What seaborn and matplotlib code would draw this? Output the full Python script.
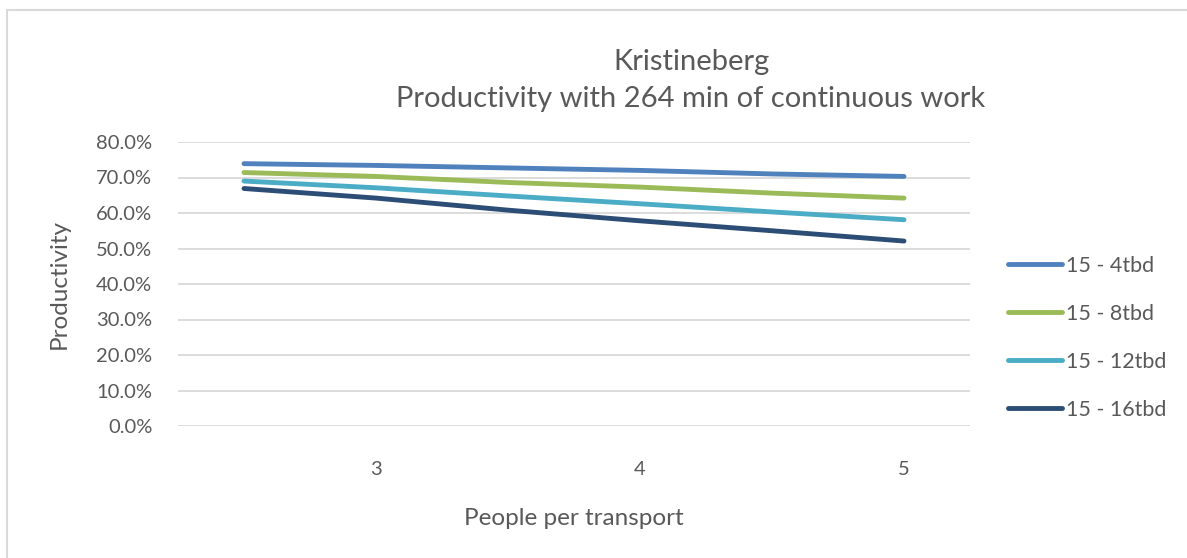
import matplotlib
matplotlib.use("Agg")
import matplotlib.pyplot as plt
from matplotlib.patches import Rectangle
from matplotlib.ticker import PercentFormatter
import seaborn as sns
import pandas as pd

# People per transport (half steps) and productivity per schedule
people = [2.5, 3.0, 3.5, 4.0, 4.5, 5.0]
tbd_4 = [0.739, 0.734, 0.727, 0.720, 0.710, 0.703]
tbd_8 = [0.714, 0.703, 0.686, 0.673, 0.656, 0.642]
tbd_12 = [0.690, 0.671, 0.648, 0.626, 0.603, 0.581]
tbd_16 = [0.669, 0.642, 0.608, 0.578, 0.550, 0.521]
series_names = ["15 - 4tbd", "15 - 8tbd", "15 - 12tbd", "15 - 16tbd"]
x_ticks = [3, 4, 5]

frames = []
for name, vals in zip(series_names, [tbd_4, tbd_8, tbd_12, tbd_16]):
    frames.append(pd.DataFrame({"people": people, "productivity": vals, "series": name}))
df = pd.concat(frames, ignore_index=True)

sns.set_theme(style="white")
plt.rcParams["font.family"] = ["Lato", "DejaVu Sans"]
text_color = "#595959"
grid_color = "#D9D9D9"
palette = ["#4F81BD", "#9BBB59", "#4BACC6", "#2C4D75"]

W, H = 1187, 558
fig = plt.figure(figsize=(W / 100, H / 100), dpi=100)
fig.patch.set_facecolor("white")

# plot area in pixel coordinates
left, right, top, bottom = 178, 970, 142, 426
ax = fig.add_axes([left / W, 1 - bottom / H, (right - left) / W, (bottom - top) / H])

lw = 3.5
sns.lineplot(data=df, x="people", y="productivity", hue="series",
             hue_order=series_names, palette=palette, linewidth=lw,
             solid_capstyle="round", ax=ax, legend=True)

ax.set_xlim(2.25, 5.25)
ax.set_ylim(0, 0.8)
ax.set_xticks(x_ticks)
ax.set_xticklabels([str(t) for t in x_ticks])
ax.set_yticks([i / 10 for i in range(9)])
ax.yaxis.set_major_formatter(PercentFormatter(xmax=1, decimals=1))
ax.grid(axis="y", color=grid_color, linewidth=1.3)
ax.set_axisbelow(True)
for s in ax.spines.values():
    s.set_visible(False)
ax.tick_params(axis="both", length=0, labelsize=14.5, colors=text_color)
ax.tick_params(axis="x", pad=25)
ax.tick_params(axis="y", pad=18.5)

ax.set_xlabel("People per transport", fontsize=17.5, color=text_color, labelpad=22)
ax.set_ylabel("Productivity", fontsize=17.5, color=text_color, labelpad=19)

fig.text(691 / W, 1 - 62 / H, "Kristineberg", ha="center", va="center",
         fontsize=21, color=text_color)
fig.text(691 / W, 1 - 99 / H, "Productivity with 264 min of continuous work",
         ha="center", va="center", fontsize=21, color=text_color)

leg = ax.legend(loc="center left", bbox_to_anchor=(1008 / W, 1 - 338 / H),
                bbox_transform=fig.transFigure, frameon=False, fontsize=15.5,
                handlelength=2.5, handletextpad=0.2, labelspacing=1.3,
                borderaxespad=0, borderpad=0)
for t in leg.get_texts():
    t.set_color(text_color)
for h in leg.get_lines():
    h.set_linewidth(lw)
    h.set_solid_capstyle("round")

# chart frame
fig.patches.append(Rectangle((7 / W, -0.05), 1.1, 1 - 10 / H + 0.05,
                             transform=fig.transFigure, fill=False,
                             edgecolor="#D9D9D9", linewidth=1.5))

fig.savefig("out.png", dpi=100, facecolor="white")
